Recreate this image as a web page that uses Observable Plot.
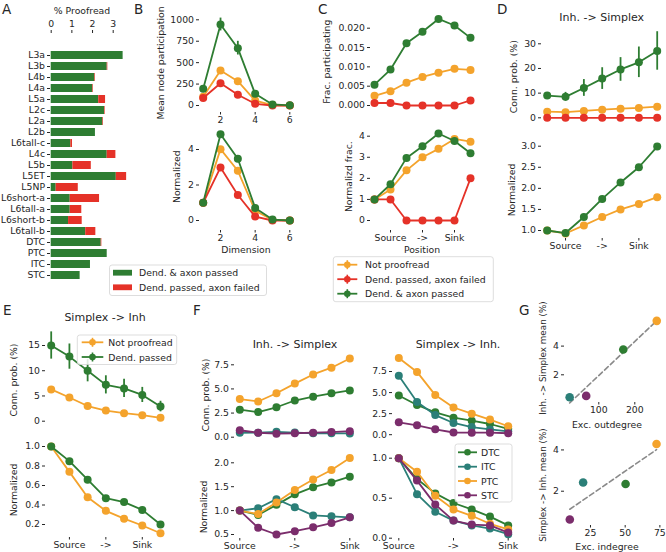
<!DOCTYPE html>
<html><head><meta charset="utf-8">
<script src="https://cdn.jsdelivr.net/npm/d3@7"></script>
<script src="https://cdn.jsdelivr.net/npm/@observablehq/plot@0.6"></script>
<style>
html,body{margin:0;padding:0;background:#fff;}
#fig{position:relative;width:666px;height:552px;overflow:hidden;background:#fff;font-family:"DejaVu Sans",sans-serif;}
#fig svg{position:absolute;left:0;top:0;overflow:visible;}
</style></head><body><div id="fig"></div>
<script>
// ================= DATA =================
// Panel A
const cellTypes = ["L3a","L3b","L4b","L4a","L5a","L2c","L2a","L2b","L6tall-c","L4c","L5b","L5ET","L5NP","L6short-a","L6tall-a","L6short-b","L6tall-b","DTC","PTC","ITC","STC"];
const pctPassed = [3.48,2.71,2.11,2.01,2.30,2.58,2.50,2.14,0.95,2.71,1.05,3.15,0.24,0.92,0.92,0.84,1.67,2.42,2.71,1.90,1.40];
const pctFailed = [0.00,0.03,0.03,0.03,0.33,0.03,0.03,0.00,0.08,0.42,0.89,0.50,1.07,1.42,0.56,0.66,0.49,0.03,0.00,0.00,0.00];
const pctTicks = [0,1,2,3];
const barLabels = ["Dend. & axon passed","Dend. passed, axon failed"];
// Panel B
const dims = [1,2,3,4,5,6];
const dimTicks = [2,4,6];
const partNotProof = [102,408,284,58,5,0];
const partFailed = [88,260,125,20,0,0];
const partPassed = [195,945,669,136,12,2];
const partPassedErr = [20,75,80,25,5,1];
const normPartNotProof = [1,4.02,2.80,0.55,0.03,0];
const normPartFailed = [1,2.99,1.44,0.22,0,0];
const normPartPassed = [1,4.86,3.48,0.71,0.05,0];
const proofLabels = ["Not proofread","Dend. passed, axon failed","Dend. & axon passed"];
// Positions (C, D, E, F)
const positions = [1,2,3,4,5,6,7];
const posTicks = [2,4,6];
const posTicksF = [1,4,7];
const posTickLabels = ["Source","->","Sink"];
// Panel C
const fracNotProof = [0.0025,0.0037,0.0059,0.0074,0.0085,0.0095,0.0092];
const fracFailed = [0.00065,0.00065,0,0,0,0,0.0013];
const fracPassed = [0.0054,0.0093,0.0161,0.0191,0.0224,0.0207,0.0175];
const normFracNotProof = [1,1.47,2.38,3.00,3.40,3.87,3.74];
const normFracFailed = [1,1,0,0,0,0,2.0];
const normFracPassed = [1,1.72,2.97,3.52,4.13,3.77,3.19];
// Panel D (Inh. -> Simplex)
const dNotProof = [2.5,2.3,2.8,3.3,3.7,4.0,4.5];
const dFailed = [0,0,0,0,0,0,0];
const dPassed = [9.0,8.5,12.1,15.9,19.6,22.5,27.1];
const dPassedErr = [1.0,1.8,3.4,4.4,4.8,6.2,7.8];
const dNormNotProof = [1.0,0.93,1.12,1.32,1.50,1.63,1.79];
const dNormPassed = [1.0,0.94,1.32,1.75,2.14,2.50,2.99];
// Panel E (Simplex -> Inh)
const eLabels = ["Not proofread","Dend. passed"];
const eNotProof = [6.3,4.7,3.0,2.1,1.6,1.2,0.66];
const ePassed = [15.0,12.8,10.0,7.2,6.5,5.2,2.9];
const ePassedErr = [2.7,2.5,2.2,1.8,1.8,1.5,1.05];
const eNormNotProof = [1.0,0.74,0.48,0.34,0.26,0.19,0.11];
const eNormPassed = [1.0,0.85,0.66,0.47,0.43,0.35,0.20];
// Panel F
const classLabels = ["DTC","ITC","PTC","STC"];
const isDTC = [2.85,2.6,3.1,3.8,4.2,4.55,4.85];
const isITC = [0.45,0.47,0.56,0.48,0.41,0.40,0.39];
const isPTC = [3.95,3.7,4.55,5.55,6.5,7.2,8.15];
const isSTC = [0.72,0.46,0.36,0.41,0.47,0.53,0.62];
const isNormDTC = [1.0,0.91,1.12,1.34,1.49,1.59,1.71];
const isNormITC = [1.0,1.05,1.24,1.07,0.90,0.88,0.86];
const isNormPTC = [1.0,0.93,1.17,1.43,1.65,1.85,2.10];
const isNormSTC = [1.0,0.64,0.50,0.57,0.65,0.74,0.86];
const siDTC = [4.65,3.52,2.65,2.02,1.66,1.27,0.70];
const siITC = [7.0,3.88,2.33,1.39,0.90,0.63,0.40];
const siPTC = [9.1,7.45,4.7,3.23,2.5,1.79,1.0];
const siSTC = [1.47,1.11,0.64,0.26,0.24,0.24,0.17];
const siNormDTC = [1.0,0.74,0.56,0.44,0.36,0.27,0.16];
const siNormITC = [1.0,0.55,0.33,0.22,0.16,0.12,0.05];
const siNormPTC = [1.0,0.83,0.53,0.36,0.28,0.18,0.11];
const siNormSTC = [1.0,0.72,0.42,0.22,0.17,0.16,0.07];
// Panel G
const excOutdegree = [168,19,261,65];
const inhSimplexMean = [3.76,0.44,5.76,0.53];
const excIndegree = [50.3,19.7,72.6,10.1];
const simplexInhMean = [2.35,2.42,4.29,0.63];

// ================= STYLE =================
const GREEN="#2e7d32", RED="#e53228", ORANGE="#f4a32c", TEAL="#2b7f78", PURPLE="#7b2d6c";
const W=666, H=552, FS=9.3;
const FONT='"DejaVu Sans", sans-serif';
const fig = document.getElementById("fig");
const plotStyle = {fontFamily:FONT, fontSize:FS+"px", color:"#262626", background:"transparent", overflow:"visible"};
const f1 = d3.format(".1f"), f3 = d3.format(".3f"), fInt = d3.format("d");
const posFmt = vals => d => posTickLabels[vals.indexOf(d)];

function linePanel(cfg){
  const {frame, xs, xd, xr, yd, yr, series, yTicks, yFmt, xTicks, xFmt, r=4} = cfg;
  const marks = [];
  for (const s of series){
    const rows = xs.map((p,i)=>({p, v:s.values[i], e: s.err ? s.err[i] : 0}));
    if (s.err) marks.push(Plot.ruleX(rows,{x:"p", y1:d=>d.v-d.e, y2:d=>d.v+d.e, stroke:s.color, strokeWidth:1.8}));
    marks.push(Plot.line(rows,{x:"p", y:"v", stroke:s.color, strokeWidth:1.8}));
    marks.push(Plot.dot(rows,{x:"p", y:"v", fill:s.color, r}));
  }
  marks.push(Plot.axisY(yTicks,{tickFormat:yFmt, tickSize:3, tickPadding:2.5, label:null}));
  if (xTicks) marks.push(Plot.axisX(xTicks,{tickFormat:xFmt, tickSize:2.5, tickPadding:1.5, label:null}));
  const opts = {
    width:W, height:H,
    marginLeft:frame[0], marginTop:frame[1], marginRight:W-frame[2], marginBottom:H-frame[3],
    x:{type:"linear", domain:xd, range:xr},
    y:{type:"linear", domain:yd, range:yr},
    style:plotStyle, marks
  };
  if (!xTicks) opts.x.axis = null;
  fig.appendChild(Plot.plot(opts));
}

// ---------- A: stacked bars ----------
const aRows = [];
cellTypes.forEach((c,i)=>{
  aRows.push({cat:c, kind:barLabels[0], v:pctPassed[i]});
  aRows.push({cat:c, kind:barLabels[1], v:pctFailed[i]});
});
fig.appendChild(Plot.plot({
  width:W, height:H, marginLeft:50, marginTop:32, marginRight:W-126, marginBottom:H-286,
  x:{domain:[0,3.6], range:[50.7,125.1]},
  y:{type:"band", domain:cellTypes, range:[44.63,284.4], paddingInner:0.28, paddingOuter:0, align:0.5},
  color:{domain:barLabels, range:[GREEN,RED]},
  style:plotStyle,
  marks:[
    Plot.barX(aRows, Plot.stackX({y:"cat", x:"v", fill:"kind"})),
    Plot.axisX(pctTicks,{anchor:"top", tickSize:3, tickPadding:2.5, label:null}),
    Plot.axisY({tickSize:3, tickPadding:2.5, label:null})
  ]
}));

// ---------- B ----------
linePanel({frame:[199,15,295,112], xs:dims, xd:[1,6], xr:[202.7,289.3], yd:[0,1000], yr:[105,19.3],
  yTicks:[0,250,500,750,1000], yFmt:fInt, xTicks:dimTicks,
  series:[{values:partNotProof,color:ORANGE},{values:partFailed,color:RED},{values:partPassed,err:partPassedErr,color:GREEN}]});
linePanel({frame:[199,140,295,230], xs:dims, xd:[1,6], xr:[202.7,289.3], yd:[0,4], yr:[220,149],
  yTicks:[0,2,4], xTicks:dimTicks,
  series:[{values:normPartNotProof,color:ORANGE},{values:normPartFailed,color:RED},{values:normPartPassed,color:GREEN}]});

// ---------- C ----------
linePanel({frame:[370,20,480,111], xs:positions, xd:[1,7], xr:[374,470], yd:[0,0.02], yr:[105,27.7],
  yTicks:[0,0.005,0.01,0.015,0.02], yFmt:f3,
  series:[{values:fracNotProof,color:ORANGE},{values:fracFailed,color:RED},{values:fracPassed,color:GREEN}]});
linePanel({frame:[370,130,480,230], xs:positions, xd:[1,7], xr:[374,470], yd:[0,4], yr:[220,135.7],
  yTicks:[0,1,2,3,4], xTicks:posTicks, xFmt:posFmt(posTicks),
  series:[{values:normFracNotProof,color:ORANGE},{values:normFracFailed,color:RED},{values:normFracPassed,color:GREEN}]});

// ---------- D ----------
linePanel({frame:[541,35,662,122], xs:positions, xd:[1,7], xr:[546.7,656.7], yd:[0,30], yr:[117.3,43.3],
  yTicks:[0,10,20,30],
  series:[{values:dNotProof,color:ORANGE},{values:dFailed,color:RED},{values:dPassed,err:dPassedErr,color:GREEN}]});
linePanel({frame:[541,140,662,238], xs:positions, xd:[1,7], xr:[546.7,656.7], yd:[1,3], yr:[230,145.7],
  yTicks:[1,1.5,2,2.5,3], yFmt:f1, xTicks:posTicks, xFmt:posFmt(posTicks),
  series:[{values:dNormNotProof,color:ORANGE},{values:dNormPassed,color:GREEN}]});

// ---------- E ----------
linePanel({frame:[45,340,165,425], xs:positions, xd:[1,7], xr:[50.7,160], yd:[0,15], yr:[420.7,345],
  yTicks:[0,5,10,15],
  series:[{values:eNotProof,color:ORANGE},{values:ePassed,err:ePassedErr,color:GREEN}]});
linePanel({frame:[45,440,165,537], xs:positions, xd:[1,7], xr:[50.7,160], yd:[0.2,1.0], yr:[524,446],
  yTicks:[0.2,0.4,0.6,0.8,1.0], yFmt:f1, xTicks:posTicks, xFmt:posFmt(posTicks),
  series:[{values:eNormNotProof,color:ORANGE},{values:eNormPassed,color:GREEN}]});

// ---------- F ----------
const fColors = [GREEN,TEAL,ORANGE,PURPLE];
linePanel({frame:[234,360,355,440], xs:positions, xd:[1,7], xr:[239.3,349.3], yd:[0,7.5], yr:[436.7,364.3],
  yTicks:[0,2.5,5,7.5], yFmt:f1,
  series:[isDTC,isITC,isPTC,isSTC].map((v,i)=>({values:v,color:fColors[i]}))});
linePanel({frame:[234,455,355,538], xs:positions, xd:[1,7], xr:[239.3,349.3], yd:[0.5,2.0], yr:[534,462.3],
  yTicks:[0.5,1,1.5,2], yFmt:f1, xTicks:posTicksF, xFmt:posFmt(posTicksF),
  series:[isNormDTC,isNormITC,isNormPTC,isNormSTC].map((v,i)=>({values:v,color:fColors[i]}))});
linePanel({frame:[392,360,512,440], xs:positions, xd:[1,7], xr:[398.3,507.7], yd:[0,7.5], yr:[434.2,371],
  yTicks:[0,2.5,5,7.5], yFmt:f1,
  series:[siDTC,siITC,siPTC,siSTC].map((v,i)=>({values:v,color:fColors[i]}))});
linePanel({frame:[392,455,512,538], xs:positions, xd:[1,7], xr:[398.3,507.7], yd:[0,1], yr:[537.7,457.7],
  yTicks:[0,0.5,1], yFmt:f1, xTicks:posTicksF, xFmt:posFmt(posTicksF),
  series:[siNormDTC,siNormITC,siNormPTC,siNormSTC].map((v,i)=>({values:v,color:fColors[i]}))});

// ---------- G ----------
function scatterPanel(frame, xd, xr, yd, yr, xv, yv, xTicks, yTicks){
  const rows = classLabels.map((c,i)=>({c, x:xv[i], y:yv[i]}));
  fig.appendChild(Plot.plot({
    width:W, height:H, marginLeft:frame[0], marginTop:frame[1], marginRight:W-frame[2], marginBottom:H-frame[3],
    x:{domain:xd, range:xr}, y:{domain:yd, range:yr},
    color:{domain:classLabels, range:fColors},
    style:plotStyle,
    marks:[
      Plot.linearRegressionY(rows,{x:"x", y:"y", ci:0, stroke:"#8a8a8a", strokeWidth:1.6, strokeDasharray:"5,3"}),
      Plot.dot(rows,{x:"x", y:"y", fill:"c", r:4.3}),
      Plot.axisY(yTicks,{tickSize:3, tickPadding:2.5, label:null}),
      Plot.axisX(xTicks,{tickSize:2.5, tickPadding:1.5, label:null})
    ]
  }));
}
scatterPanel([564,310,664,402], [0,280], [562.3,663.1], [0,6], [403,316.9], excOutdegree, inhSimplexMean, [100,200], [2,4]);
scatterPanel([564,430,664,525], [0,80], [555.3,666.3], [0,4.5], [532,439.1], excIndegree, simplexInhMean, [25,50,75], [2,4]);

// ================= TEXT OVERLAY & LEGENDS =================
const ov = d3.create("svg").attr("width",W).attr("height",H).attr("font-family",FONT).attr("fill","#262626");
function text(s,x,y,size,opt={}){
  const t = ov.append("text").text(s).attr("font-size",size)
    .attr("text-anchor",opt.anchor||"middle").attr("dominant-baseline",opt.baseline||"central");
  if (opt.rotate) t.attr("transform",`translate(${x},${y}) rotate(-90)`); else t.attr("x",x).attr("y",y);
}
// panel letters
[["A",2,14],["B",134,14],["C",318,14],["D",497,14],["E",3,315],["F",193,315],["G",519,315]]
  .forEach(([s,x,y])=>text(s,x,y,13.5,{anchor:"start",baseline:"alphabetic"}));
// titles
text("Inh. -> Simplex",601.7,17.5,11);
text("Simplex -> Inh",105,317,11);
text("Inh. -> Simplex",295,344,11);
text("Simplex -> Inh.",458,344,11);
// axis labels
text("% Proofread",82,10,FS);
text("Mean node participation",160,63,FS,{rotate:true});
text("Normalized",176.7,176.7,FS,{rotate:true});
text("Dimension",246,249.5,FS);
text("Frac. participating",326.7,61.7,FS,{rotate:true});
text("Normalizd frac.",348,176.7,FS,{rotate:true});
text("Position",422,249.5,FS);
text("Conn. prob. (%)",513.3,76.7,FS,{rotate:true});
text("Normalized",511.7,190,FS,{rotate:true});
text("Conn. prob. (%)",13.3,380,FS,{rotate:true});
text("Normalized",13.3,490,FS,{rotate:true});
text("Conn. prob. (%)",205,395,FS,{rotate:true});
text("Normalized",203,507,FS,{rotate:true});
text("Inh. -> Simplex mean (%)",543.3,358,8.8,{rotate:true});
text("Simplex -> Inh. mean (%)",543.3,485,8.8,{rotate:true});
text("Exc. outdegree",607,424.5,FS);
text("Exc. indegree",607,546.5,FS);

function box(x,y,w,h){
  ov.append("rect").attr("x",x).attr("y",y).attr("width",w).attr("height",h).attr("rx",2.5)
    .attr("fill","#fff").attr("fill-opacity",0.85).attr("stroke","#d4d4d4").attr("stroke-width",0.8);
}
function lineSym(x0,x1,cy,color,errbar){
  ov.append("line").attr("x1",x0).attr("x2",x1).attr("y1",cy).attr("y2",cy).attr("stroke",color).attr("stroke-width",1.8);
  const cx=(x0+x1)/2;
  if (errbar) ov.append("line").attr("x1",cx).attr("x2",cx).attr("y1",cy-4.5).attr("y2",cy+4.5).attr("stroke",color).attr("stroke-width",1.6);
  ov.append("circle").attr("cx",cx).attr("cy",cy).attr("r",3.3).attr("fill",color);
}
// A legend
box(109.5,265,157,30.5);
[[GREEN,272.7],[RED,287.3]].forEach(([c,cy],i)=>{
  ov.append("rect").attr("x",113).attr("y",cy-2.9).attr("width",19).attr("height",5.8).attr("fill",c);
  text(barLabels[i],139,cy,FS,{anchor:"start"});
});
// C legend
box(333.3,256.7,160,45);
[[ORANGE,264.7],[RED,279.2],[GREEN,293.7]].forEach(([c,cy],i)=>{
  lineSym(337.3,357.3,cy,c,true);
  text(proofLabels[i],365,cy,FS,{anchor:"start"});
});
// E legend
box(77.3,335,99.4,29.5);
[[ORANGE,342.3],[GREEN,357]].forEach(([c,cy],i)=>{
  lineSym(81.7,103.3,cy,c,true);
  text(eLabels[i],108.3,cy,FS,{anchor:"start"});
});
// F legend
box(455,444,57,58);
[452.3,466.7,481,495.3].forEach((cy,i)=>{
  lineSym(458,477,cy,fColors[i],false);
  text(classLabels[i],481,cy,FS,{anchor:"start"});
});
fig.appendChild(ov.node());
</script></body></html>
